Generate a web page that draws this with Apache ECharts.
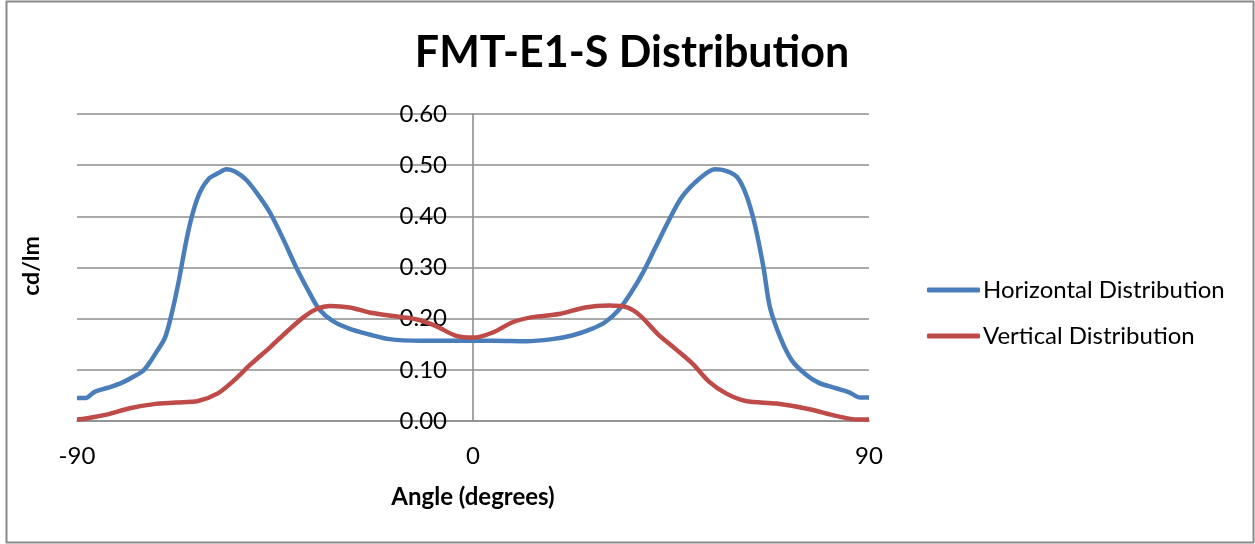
<!DOCTYPE html>
<html>
<head>
<meta charset="utf-8">
<script src="https://cdn.jsdelivr.net/npm/echarts@6/dist/echarts.min.js"></script>
<style>
html,body{margin:0;padding:0;background:#fff;}
#chart{width:1255px;height:544px;}
</style>
</head>
<body>
<div id="chart"></div>
<script>
// Data
var chartTitle = 'FMT-E1-S Distribution';
var seriesNames = ['Horizontal Distribution', 'Vertical Distribution'];
var xTicks = [-90, 0, 90];
var yTicks = [0, 0.1, 0.2, 0.3, 0.4, 0.5, 0.6];

var hAngles = [-90,-88,-86,-83,-80,-77.5,-75,-73.5,-72,-70,-68.5,-67,-65,-63.5,-62,-60,-58,-56,-54,-51.5,-48.5,-46,-43,-40,-37,-35,-32,-28,-23.5,-19,-12,-5,0,5,12,18,22.5,27,30,33,36,38.5,41.5,44.5,47.5,51.5,55,57.5,60,62,64,66,67.5,70,72.5,75.5,78.5,82.5,85.5,88,90];
var hValues = [0.045,0.045,0.057,0.065,0.074,0.085,0.098,0.114,0.134,0.163,0.209,0.268,0.359,0.412,0.448,0.474,0.484,0.492,0.487,0.471,0.438,0.405,0.353,0.297,0.248,0.219,0.196,0.180,0.169,0.160,0.157,0.157,0.157,0.157,0.156,0.160,0.167,0.180,0.193,0.216,0.252,0.288,0.340,0.392,0.438,0.474,0.492,0.489,0.477,0.444,0.386,0.301,0.222,0.160,0.118,0.092,0.075,0.064,0.056,0.046,0.046];

var vAngles = [-90,-88,-83,-78,-72.5,-67.5,-62.5,-58,-54.5,-50.5,-46,-42.5,-38.5,-35.5,-32.5,-28,-23.5,-19,-13,-8.5,-4,0,4.5,9,13.5,19.5,25.5,31,35,38,42,46,50,53.5,57.5,62,69,76.5,82.5,87.5,90];
var vValues = [0.003,0.005,0.013,0.025,0.033,0.036,0.039,0.054,0.078,0.111,0.145,0.173,0.203,0.219,0.225,0.222,0.212,0.206,0.199,0.186,0.167,0.163,0.173,0.193,0.203,0.209,0.222,0.2255,0.222,0.206,0.170,0.141,0.111,0.078,0.054,0.039,0.034,0.023,0.010,0.003,0.003];

function pairs(xs, ys){ return xs.map(function(x,i){ return [x, ys[i]]; }); }

var FONT = 'Lato';
var GRID_COLOR = '#8e8e8e';
var chart = echarts.init(document.getElementById('chart'));
chart.setOption({
  animation: false,
  backgroundColor: '#ffffff',
  title: {
    text: chartTitle,
    left: 627, top: 27, textAlign: 'center',
    textStyle: {fontFamily: FONT, fontWeight: 'bold', fontSize: 43, color: '#000'}
  },
  graphic: [
    {type: 'rect', shape: {x: 6.5, y: 1.5, width: 1247, height: 541}, style: {fill: 'none', stroke: '#8a8a8a', lineWidth: 2}, silent: true},
    {type: 'text', x: 32, y: 266, rotation: Math.PI/2, style: {text: 'cd/lm', fontFamily: FONT, fontWeight: 'bold', fontSize: 23, fill: '#000', align: 'center', verticalAlign: 'middle'}}
  ],
  legend: {
    orient: 'vertical',
    left: 922, top: 273,
    icon: 'roundRect',
    itemWidth: 53, itemHeight: 5, itemGap: 22,
    textStyle: {fontFamily: FONT, fontSize: 24, color: '#000', padding: [0,0,0,-2]},
    data: seriesNames
  },
  grid: {left: 77, top: 114, width: 792, height: 307, containLabel: false},
  xAxis: {
    type: 'value', min: -90, max: 90, interval: 90,
    name: 'Angle (degrees)', nameLocation: 'middle', nameGap: 64,
    nameTextStyle: {fontFamily: FONT, fontWeight: 'bold', fontSize: 24, color: '#000'},
    axisLine: {show: true, lineStyle: {color: GRID_COLOR, width: 1.6}},
    axisTick: {show: false},
    splitLine: {show: false},
    axisLabel: {fontFamily: FONT, fontSize: 24, color: '#000', margin: 23,
      formatter: function(v){ return xTicks.indexOf(v) >= 0 ? String(v) : ''; }}
  },
  yAxis: {
    type: 'value', min: 0, max: 0.6, interval: 0.1,
    offset: -396,
    axisLine: {show: true, onZero: false, lineStyle: {color: GRID_COLOR, width: 1.6}},
    axisTick: {show: false},
    splitLine: {show: true, lineStyle: {color: GRID_COLOR, width: 1.6}},
    axisLabel: {fontFamily: FONT, fontSize: 24, color: '#000', margin: 26,
      formatter: function(v){ return v.toFixed(2); }}
  },
  series: [
    {name: seriesNames[0], type: 'line', data: pairs(hAngles, hValues), smooth: 0.3, symbol: 'none',
     lineStyle: {color: '#4a7ebb', width: 4.5}, itemStyle: {color: '#4a7ebb'}},
    {name: seriesNames[1], type: 'line', data: pairs(vAngles, vValues), smooth: 0.3, symbol: 'none',
     lineStyle: {color: '#be4b48', width: 4.5}, itemStyle: {color: '#be4b48'}}
  ]
});
</script>
</body>
</html>
